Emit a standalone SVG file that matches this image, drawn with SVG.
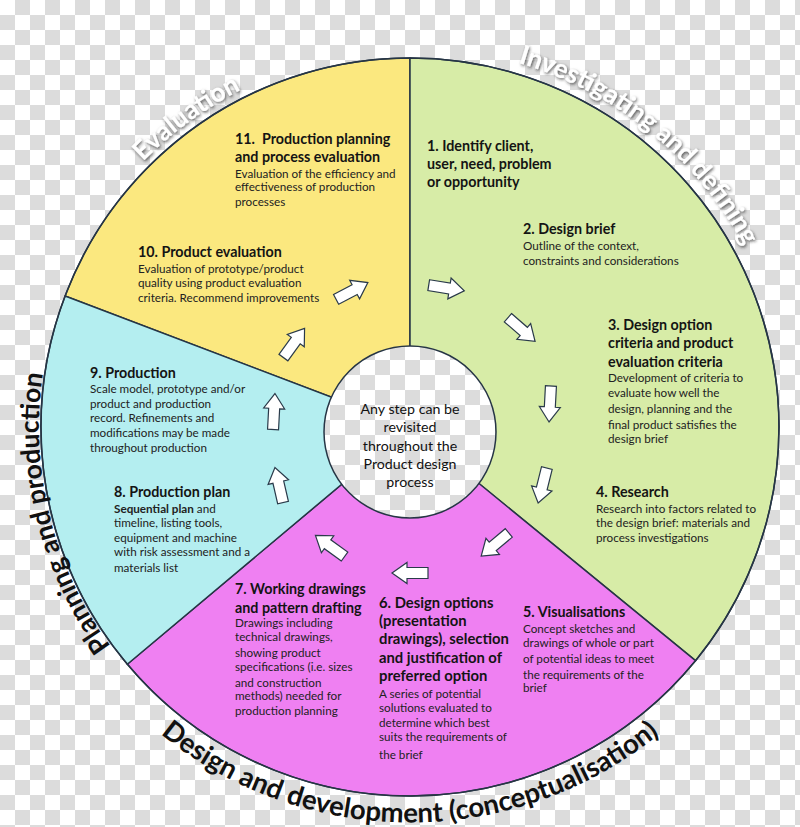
<svg xmlns="http://www.w3.org/2000/svg" xmlns:xlink="http://www.w3.org/1999/xlink" width="800" height="827" viewBox="0 0 800 827">
<defs>
<pattern id="chk" width="30" height="30" patternUnits="userSpaceOnUse">
<rect width="30" height="30" fill="#ffffff"/>
<rect x="15" y="0" width="15" height="15" fill="#dcdcdc"/>
<rect x="0" y="15" width="15" height="15" fill="#dcdcdc"/>
</pattern>
<filter id="shadow" x="-20%" y="-20%" width="140%" height="140%">
<feDropShadow dx="1" dy="1.5" stdDeviation="1.6" flood-color="#222" flood-opacity="0.75"/>
</filter>
<polygon id="arrow" points="-18,-5.5 3,-5.5 3,-10.5 18,0 3,10.5 3,5.5 -18,5.5" fill="#ffffff" stroke="#2a3a4a" stroke-width="1.2" stroke-linejoin="miter"/>
<path id="pPlan" d="M224.5,748.3 A371,371 0 0 1 125.8,188.5"/>
<path id="pEval" d="M56.7,298.4 A378,378 0 0 1 410,49"/>
<path id="pInv" d="M410,47 A380,380 0 0 1 790,427"/>
<path id="pDes" d="M20,495.2 A396,396 0 0 0 800,495.2"/>
<style>
.t{font-family:Lato,"Liberation Sans",sans-serif;font-weight:bold;font-size:14.3px;fill:#141414}
.t6{font-family:Lato,"Liberation Sans",sans-serif;font-weight:bold;font-size:14.8px;fill:#141414}
.s{font-family:Lato,"Liberation Sans",sans-serif;font-size:11.7px;fill:#222222}
.c{font-family:Lato,"Liberation Sans",sans-serif;font-size:14.2px;fill:#111111;text-anchor:middle}
.sec{stroke:#263545;stroke-width:1.5;stroke-linejoin:round}
.lblw{font-family:Lato,"Liberation Sans",sans-serif;font-weight:bold;font-size:26px;fill:#ffffff}
.lblk{font-family:Lato,"Liberation Sans",sans-serif;font-weight:bold;font-size:27.5px;fill:#111111}
</style>
</defs>

<rect width="800" height="827" fill="url(#chk)"/>

<g id="wheel">
<path class="sec" fill="#fbe87f" d="M410,427 L65.1,296 A369,369 0 0 1 410,58 Z"/>
<path class="sec" fill="#d7eca7" d="M410,427 L410,58 A369,369 0 0 1 695.5,660.7 Z"/>
<path class="sec" fill="#ef80f2" d="M410,427 L695.5,660.7 A369,369 0 0 1 127.3,664.2 Z"/>
<path class="sec" fill="#b4eef0" d="M410,427 L127.3,664.2 A369,369 0 0 1 65.1,296 Z"/>
<circle cx="410" cy="427" r="369" fill="none" stroke="#263545" stroke-width="1.5"/>
</g>

<g id="center">
<circle cx="410" cy="432" r="86" fill="url(#chk)" stroke="#263545" stroke-width="1.5"/>
<text class="c" x="410" y="414">Any step can be</text>
<text class="c" x="410" y="432">revisited</text>
<text class="c" x="410" y="451">throughout the</text>
<text class="c" x="410" y="469">Product design</text>
<text class="c" x="410" y="487">process</text>
</g>

<g id="step1">
<text class="t" x="427" y="151">1. Identify client,</text>
<text class="t" x="427" y="169">user, need, problem</text>
<text class="t" x="427" y="187">or opportunity</text>
</g>

<g id="step2">
<text class="t" x="523" y="234">2. Design brief</text>
<text class="s" x="523" y="250">Outline of the context,</text>
<text class="s" x="523" y="265">constraints and considerations</text>
</g>

<g id="step3">
<text class="t" x="608" y="330">3. Design option</text>
<text class="t" x="608" y="348">criteria and product</text>
<text class="t" x="608" y="367">evaluation criteria</text>
<text class="s" x="608" y="382">Development of criteria to</text>
<text class="s" x="608" y="397">evaluate how well the</text>
<text class="s" x="608" y="413">design, planning and the</text>
<text class="s" x="608" y="429">final product satisfies the</text>
<text class="s" x="608" y="443">design brief</text>
</g>

<g id="step4">
<text class="t" x="596" y="497">4. Research</text>
<text class="s" x="596" y="513">Research into factors related to</text>
<text class="s" x="596" y="527">the design brief: materials and</text>
<text class="s" x="596" y="542">process investigations</text>
</g>

<g id="step5">
<text class="t" x="523" y="617">5. Visualisations</text>
<text class="s" x="523" y="633">Concept sketches and</text>
<text class="s" x="523" y="647">drawings of whole or part</text>
<text class="s" x="523" y="663">of potential ideas to meet</text>
<text class="s" x="523" y="679">the requirements of the</text>
<text class="s" x="523" y="692">brief</text>
</g>

<g id="step6">
<text class="t6" x="379" y="608">6. Design options</text>
<text class="t6" x="379" y="626">(presentation</text>
<text class="t6" x="379" y="644">drawings), selection</text>
<text class="t6" x="379" y="663">and justification of</text>
<text class="t6" x="379" y="681">preferred option</text>
<text class="s" x="379" y="698">A series of potential</text>
<text class="s" x="379" y="712">solutions evaluated to</text>
<text class="s" x="379" y="727">determine which best</text>
<text class="s" x="379" y="741">suits the requirements of</text>
<text class="s" x="379" y="759">the brief</text>
</g>

<g id="step7">
<text class="t" x="235" y="594">7. Working drawings</text>
<text class="t" x="235" y="613">and pattern drafting</text>
<text class="s" x="235" y="627">Drawings including</text>
<text class="s" x="235" y="641">technical drawings,</text>
<text class="s" x="235" y="657">showing product</text>
<text class="s" x="235" y="671">specifications (i.e. sizes</text>
<text class="s" x="235" y="687">and construction</text>
<text class="s" x="235" y="700">methods) needed for</text>
<text class="s" x="235" y="715">production planning</text>
</g>

<g id="step8">
<text class="t" x="114" y="497">8. Production plan</text>
<text class="s" x="114" y="513"><tspan font-weight="bold">Sequential plan</tspan> and</text>
<text class="s" x="114" y="527">timeline, listing tools,</text>
<text class="s" x="114" y="542">equipment and machine</text>
<text class="s" x="114" y="556">with risk assessment and a</text>
<text class="s" x="114" y="572">materials list</text>
</g>

<g id="step9">
<text class="t" x="90" y="378">9. Production</text>
<text class="s" x="90" y="393">Scale model, prototype and/or</text>
<text class="s" x="90" y="408">product and production</text>
<text class="s" x="90" y="422">record. Refinements and</text>
<text class="s" x="90" y="437">modifications may be made</text>
<text class="s" x="90" y="452">throughout production</text>
</g>

<g id="step10">
<text class="t" x="138" y="257">10. Product evaluation</text>
<text class="s" x="138" y="273">Evaluation of prototype/product</text>
<text class="s" x="138" y="287">quality using product evaluation</text>
<text class="s" x="138" y="302">criteria. Recommend improvements</text>
</g>

<g id="step11">
<text class="t" x="235" y="144">11.&#160; Production planning</text>
<text class="t" x="235" y="162">and process evaluation</text>
<text class="s" x="235" y="178">Evaluation of the efficiency and</text>
<text class="s" x="235" y="191">effectiveness of production</text>
<text class="s" x="235" y="206">processes</text>
</g>

<g id="connectors">
<use xlink:href="#arrow" href="#arrow" transform="translate(446.5,288) rotate(9)"/>
<use xlink:href="#arrow" href="#arrow" transform="translate(521.5,329.5) rotate(41)"/>
<use xlink:href="#arrow" href="#arrow" transform="translate(550,404) rotate(93)"/>
<use xlink:href="#arrow" href="#arrow" transform="translate(542.5,485.5) rotate(104)"/>
<use xlink:href="#arrow" href="#arrow" transform="translate(495,544.5) rotate(140)"/>
<use xlink:href="#arrow" href="#arrow" transform="translate(410,573) rotate(180)"/>
<use xlink:href="#arrow" href="#arrow" transform="translate(330,546) rotate(216)"/>
<use xlink:href="#arrow" href="#arrow" transform="translate(279,485) rotate(257)"/>
<use xlink:href="#arrow" href="#arrow" transform="translate(274,411.5) rotate(273)"/>
<use xlink:href="#arrow" href="#arrow" transform="translate(294,343) rotate(-54)"/>
<use xlink:href="#arrow" href="#arrow" transform="translate(352,291) rotate(-28)"/>
</g>

<g id="label-evaluation" filter="url(#shadow)">
<text class="lblw" text-anchor="middle"><textPath xlink:href="#pEval" href="#pEval" startOffset="224">Evaluation</textPath></text>
</g>
<g id="label-investigating" filter="url(#shadow)">
<text class="lblw" text-anchor="middle"><textPath xlink:href="#pInv" href="#pInv" startOffset="259">Investigating and defining</textPath></text>
</g>
<g id="label-planning">
<text class="lblw" style="fill:#111111;font-size:26.5px" text-anchor="middle"><textPath xlink:href="#pPlan" href="#pPlan" startOffset="298">Planning and production</textPath></text>
</g>
<g id="label-design">
<text class="lblk" text-anchor="middle"><textPath xlink:href="#pDes" href="#pDes" startOffset="50%">Design and development (conceptualisation)</textPath></text>
</g>
</svg>
